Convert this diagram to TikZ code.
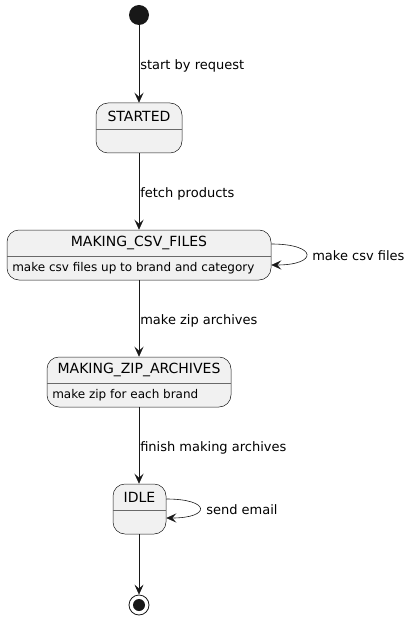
\documentclass[tikz,border=0pt]{standalone}
\usepackage{fontspec}
\setmainfont{DejaVu Sans}
\usetikzlibrary{arrows.meta,positioning}
\definecolor{uml}{HTML}{181818}
\definecolor{umlfill}{HTML}{F1F1F1}
\begin{document}
\begin{tikzpicture}[x=1pt,y=-1pt,draw=uml,line width=0.6pt,>={Stealth[length=10pt,width=9pt,inset=4pt]}]
    \tikzstyle{state}=[draw=uml,fill=umlfill,rounded corners=12pt,line width=0.5pt,inner sep=0pt,minimum height=50pt]
    \tikzstyle{title}=[inner sep=0pt,font=\fontsize{14}{16}\selectfont]
    \tikzstyle{body}=[inner sep=0pt,anchor=west,font=\fontsize{12}{14}\selectfont]
    \tikzstyle{tr}=[->,font=\fontsize{13}{15}\selectfont]
    \tikzstyle{lbl}=[right,inner sep=1pt,yshift=-2pt]
    \tikzstyle{sep}=[draw=uml!65,line width=0.5pt]
\useasboundingbox (0,0) rectangle (419,620);

\node[circle,fill=uml,minimum size=20pt,inner sep=0pt] (init) at (139,15) {};
\node[state,minimum width=86pt] (started) at (139,128) {};
\node[state,minimum width=264pt] (csv) at (139,255) {};
\node[state,minimum width=184pt] (zip) at (139,382) {};
\node[state,minimum width=53pt] (idle) at (139.5,509) {};
\node[circle,draw=uml,fill=white,line width=0.8pt,minimum size=20pt,inner sep=0pt] (fin) at (139,605) {};
\node[circle,fill=uml,minimum size=12pt,inner sep=0pt] (fincore) at (fin) {};

% compartments
\draw[sep] (started.west |- 0,129) -- (started.east |- 0,129);
\draw[sep] (csv.west |- 0,256) -- (csv.east |- 0,256);
\draw[sep] (zip.west |- 0,383) -- (zip.east |- 0,383);
\draw[sep] (idle.west |- 0,510) -- (idle.east |- 0,510);

\node[title] (t1) at (139,116) {STARTED};
\node[title] (t2) at (139,243) {MAKING\_CSV\_FILES};
\node[body] (b2) at (12,268) {make csv files up to brand and category};
\node[title] (t3) at (139,370) {MAKING\_ZIP\_ARCHIVES};
\node[body] (b3) at (52,395) {make zip for each brand};
\node[title] (t4) at (139.5,497) {IDLE};

% transitions
\draw[tr] (init) -- node[lbl] {start by request} (started);
\draw[tr] (started) -- node[lbl] {fetch products} (csv);
\draw[tr] (csv) -- node[lbl] {make zip archives} (zip);
\draw[tr] (zip) -- node[lbl] {finish making archives} (idle.north -| 139,0);
\draw[tr] (idle.south -| 139,0) -- (fin);

% self loops
\draw[tr] (csv.east |- 0,244) .. controls (318,244) and (318,265) .. (csv.east |- 0,265);
\node[right,inner sep=0pt,font=\fontsize{13}{15}\selectfont] (l5) at (312,256) {make csv files};
\draw[tr] (idle.east |- 0,499) .. controls (211,499) and (211,518) .. (idle.east |- 0,518);
\node[right,inner sep=0pt,font=\fontsize{13}{15}\selectfont] (l6) at (206,510) {send email};
\end{tikzpicture}
\end{document}
